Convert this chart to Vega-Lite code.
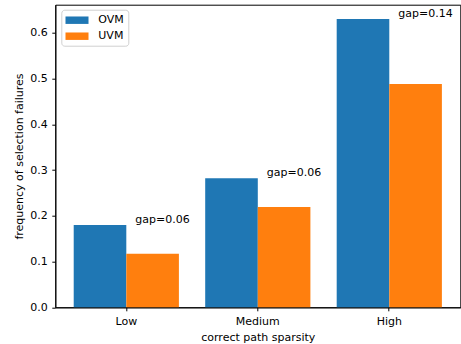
{
  "$schema": "https://vega.github.io/schema/vega-lite/v6.json",
  "width": 405,
  "height": 302.6,
  "autosize": {"type": "none"},
  "padding": {"left": 55.3, "top": 4.7, "right": 0.7, "bottom": 36.7},
  "config": {
    "font": "DejaVu Sans",
    "view": {"stroke": "#000", "strokeWidth": 1},
    "axis": {
      "domainColor": "#000",
      "tickColor": "#000",
      "labelColor": "#000",
      "titleColor": "#000",
      "labelFontSize": 11,
      "titleFontSize": 11,
      "titleFontWeight": "normal",
      "tickSize": 3.5,
      "grid": false,
      "domainWidth": 1,
      "tickWidth": 1,
      "labelPadding": 4.5
    },
    "legend": {
      "labelFontSize": 11,
      "labelColor": "#000"
    }
  },
  "datasets": {
    "bars": [
      {"sparsity": "Low", "model": "OVM", "value": 0.18},
      {"sparsity": "Low", "model": "UVM", "value": 0.117},
      {"sparsity": "Medium", "model": "OVM", "value": 0.282},
      {"sparsity": "Medium", "model": "UVM", "value": 0.219},
      {"sparsity": "High", "model": "OVM", "value": 0.63},
      {"sparsity": "High", "model": "UVM", "value": 0.488}
    ],
    "gaps": [
      {"sparsity": "Low", "top": 0.18, "label": "gap=0.06"},
      {"sparsity": "Medium", "top": 0.282, "label": "gap=0.06"},
      {"sparsity": "High", "top": 0.63, "label": "gap=0.14"}
    ]
  },
  "layer": [
    {
      "data": {"name": "bars"},
      "mark": {"type": "bar"},
      "encoding": {
        "x": {
          "field": "sparsity",
          "type": "nominal",
          "sort": ["Low", "Medium", "High"],
          "scale": {"paddingInner": 0.2, "paddingOuter": 0.14},
          "axis": {"labelAngle": 0, "title": "correct path sparsity", "titlePadding": 5}
        },
        "xOffset": {"field": "model", "type": "nominal", "sort": ["OVM", "UVM"]},
        "y": {
          "field": "value",
          "type": "quantitative",
          "scale": {"domain": [0, 0.6615], "nice": false},
          "axis": {
            "title": "frequency of selection failures",
            "values": [0, 0.1, 0.2, 0.3, 0.4, 0.5, 0.6],
            "format": ".1f",
            "titlePadding": 5
          }
        },
        "color": {
          "field": "model",
          "type": "nominal",
          "scale": {"domain": ["OVM", "UVM"], "range": ["#1f77b4", "#ff7f0e"]},
          "legend": {
            "title": null,
            "orient": "none",
            "legendX": 6,
            "legendY": 5,
            "fillColor": "#ffffff",
            "strokeColor": "#d0d0d0",
            "cornerRadius": 3,
            "padding": 4,
            "symbolType": "M-1,-0.59H2.65V0.59H-1Z",
            "symbolSize": 159,
            "symbolStrokeWidth": 0,
            "labelOffset": 20,
            "rowPadding": 4
          }
        }
      }
    },
    {
      "data": {"name": "gaps"},
      "mark": {"type": "text", "align": "left", "baseline": "bottom", "dx": 9, "fontSize": 11, "color": "#000"},
      "encoding": {
        "x": {"field": "sparsity", "type": "nominal", "sort": ["Low", "Medium", "High"]},
        "y": {"field": "top", "type": "quantitative"},
        "text": {"field": "label"}
      }
    }
  ]
}
